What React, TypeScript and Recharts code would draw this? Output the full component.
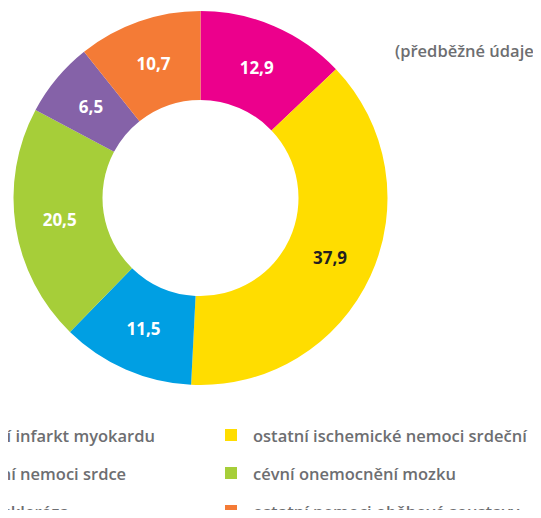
import React from "react";
import { PieChart, Pie, Cell, Legend, Label } from "recharts";

const categories = [
  "akutní infarkt myokardu",
  "ostatní ischemické nemoci srdeční",
  "ostatní nemoci srdce",
  "cévní onemocnění mozku",
  "ateroskleróza",
  "ostatní nemoci oběhové soustavy",
];
const values = [12.9, 37.9, 11.5, 20.5, 6.5, 10.7];
const colors = ["#EC008C", "#FFDD00", "#009FE3", "#A6CE39", "#8562A8", "#F47B36"];
const labelColors = ["#ffffff", "#231F20", "#ffffff", "#ffffff", "#ffffff", "#ffffff"];
const subtitle = "(předběžné údaje)";
const centerText = "V %";

const data = categories.map((name, i) => ({ name, value: values[i] }));

const FONT = "'Open Sans', sans-serif";
const GRAY = "#6D6E71";

const RADIAN = Math.PI / 180;
const renderLabel = (props: any) => {
  const { cx, cy, midAngle, innerRadius, outerRadius, index, value } = props;
  const r = (innerRadius + outerRadius) / 2;
  const x = cx + r * Math.cos(-midAngle * RADIAN);
  const y = cy + r * Math.sin(-midAngle * RADIAN);
  return (
    <text
      x={x}
      y={y}
      textAnchor="middle"
      dominantBaseline="central"
      fill={labelColors[index]}
      fontFamily={FONT}
      fontWeight={700}
      fontSize={17}
    >
      {String(value).replace(".", ",")}
    </text>
  );
};

const LegendContent = () => {
  const colX = [-40, 253];
  const rowY = [435, 473, 511];
  return (
    <div style={{ position: "relative", width: 541, height: 518 }}>
      {categories.map((name, i) => {
        const col = i % 2;
        const row = Math.floor(i / 2);
        return (
          <div
            key={name}
            style={{
              position: "absolute",
              left: colX[col] - 28,
              top: rowY[row] - 12,
              height: 24,
              display: "flex",
              alignItems: "center",
              whiteSpace: "nowrap",
              fontFamily: FONT,
              fontWeight: 600,
              fontSize: 16.5,
              color: GRAY,
            }}
          >
            <span
              style={{
                display: "inline-block",
                width: 12,
                height: 12,
                background: colors[i],
                marginRight: 16,
                flexShrink: 0,
              }}
            />
            <span>{name}</span>
          </div>
        );
      })}
    </div>
  );
};

export default function App() {
  return (
    <div style={{ margin: -8, width: 541, height: 518, position: "relative", overflow: "hidden" }}>
      <PieChart width={541} height={518} margin={{ top: 0, right: 0, bottom: 0, left: 0 }}>
        <text
          x={539}
          y={50}
          textAnchor="end"
          dominantBaseline="central"
          fill={GRAY}
          fontFamily={FONT}
          fontWeight={600}
          fontSize={16.5}
        >
          {subtitle}
        </text>
        <Pie
          data={data}
          dataKey="value"
          nameKey="name"
          cx={200.5}
          cy={198}
          innerRadius={98}
          outerRadius={187}
          startAngle={90}
          endAngle={-270}
          stroke="none"
          isAnimationActive={false}
          label={renderLabel}
          labelLine={false}
        >
          {data.map((d, i) => (
            <Cell key={d.name} fill={colors[i]} />
          ))}
          <Label
            value={centerText}
            position="center"
            fill={GRAY}
            fontFamily={FONT}
            fontWeight={600}
            fontSize={16}
          />
        </Pie>
        <Legend
          content={<LegendContent />}
          wrapperStyle={{ position: "absolute", left: 0, top: 0, width: 541, height: 518 }}
        />
      </PieChart>
    </div>
  );
}
